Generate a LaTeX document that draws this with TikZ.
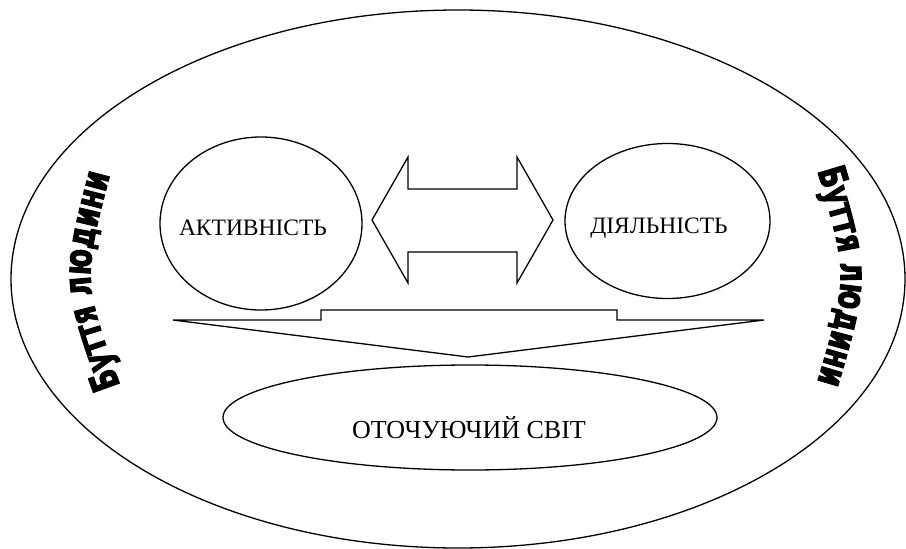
\documentclass[tikz,border=0pt]{standalone}
\usepackage{fontspec}
\setmainfont{Liberation Serif}
\newfontfamily\wordart[FakeStretch=0.70,FakeBold=2.6]{DejaVu Sans}
\usetikzlibrary{shapes.geometric,decorations.text}
\tikzset{
  ell/.style={draw, ellipse, inner sep=0pt, line width=1.3pt},
  lbl/.style={anchor=base, inner sep=0pt, font=\fontsize{23.5}{27}\selectfont},
  biglbl/.style={anchor=base, inner sep=0pt, font=\fontsize{26}{30}\selectfont},
  shapeline/.style={draw, fill=white, line width=1.3pt, line join=miter},
  arcword/.style={decorate, decoration={text along path, text align=center,
     text={|\wordart\bfseries\fontsize{38}{40}\selectfont|Буття людини}}}
}
\begin{document}
\begin{tikzpicture}[x=1pt,y=-1pt]
\useasboundingbox (0,0) rectangle (906,549);
% outer ellipse
\node[ell, minimum width=894pt, minimum height=538pt] (world) at (458,279) {};
% circles
\node[ell, minimum width=202pt, minimum height=173pt] (akt) at (261,223.5) {};
\node[ell, minimum width=205pt, minimum height=155pt] (dial) at (667.5,221) {};
\node[lbl] (akttext) at (253,235) {АКТИВНІСТЬ};
\node[lbl] (dialtext) at (659,233) {ДІЯЛЬНІСТЬ};
% bottom ellipse
\node[ell, minimum width=494pt, minimum height=105pt] (svit) at (470,417.5) {};
\node[biglbl] (svittext) at (469,438) {ОТОЧУЮЧИЙ СВІТ};
% double arrow
\path[shapeline] (372,220) -- (408,157) -- (408,189) -- (517,189) -- (517,157)
  -- (553,220) -- (517,283) -- (517,252) -- (408,252) -- (408,283) -- cycle;
% down arrow
\path[shapeline] (173,320) -- (321,320) -- (321,310) -- (617,310) -- (617,320)
  -- (764,320) -- (468,357) -- cycle;
% side texts
\path[arcword] (123,393) .. controls (82,280) .. (112,167);
\path[arcword] (815,163) .. controls (849,276) .. (815,390);
\end{tikzpicture}
\end{document}
